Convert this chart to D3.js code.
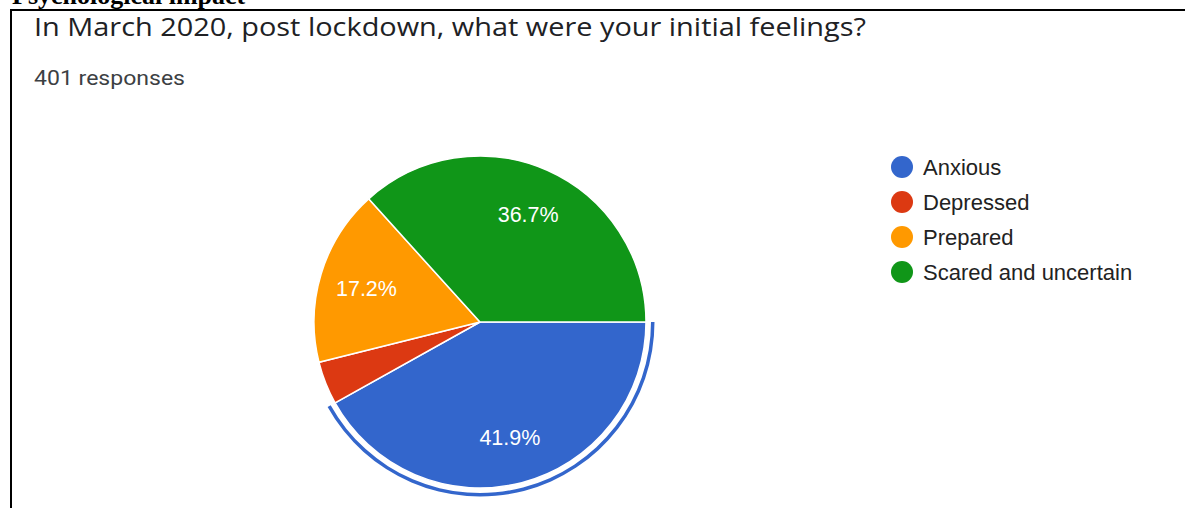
<!DOCTYPE html>
<html>
<head>
<meta charset="utf-8">
<script src="https://cdn.jsdelivr.net/npm/d3@7"></script>
<style>
  html, body { margin: 0; padding: 0; background: #ffffff; }
  svg { display: block; }
</style>
</head>
<body>
<svg id="chart" width="1185" height="508"></svg>
<script>
// Survey answers: share of respondents per feeling (percent)
const categories = ["Anxious", "Depressed", "Prepared", "Scared and uncertain"];
const shares = [41.9, 4.2, 17.2, 36.7];
const sliceColors = ["#3366cc", "#dc3912", "#ff9900", "#109618"];
const responseCount = 401;
const highlighted = "Anxious";

const svg = d3.select("#chart");
const W = 1185, H = 508;

// Section heading of the document, partly cut off above the frame
svg.append("text")
  .attr("x", 12).attr("y", 4)
  .attr("font-family", "'Liberation Serif', 'Times New Roman', serif")
  .attr("font-weight", "bold")
  .attr("font-size", 26)
  .attr("fill", "#000")
  .text("Psychological impact");

// Frame around the form card
svg.append("path")
  .attr("d", `M11,${H} L11,10 L${W},10`)
  .attr("fill", "none")
  .attr("stroke", "#000")
  .attr("stroke-width", 2);

// Question and response count
svg.append("text")
  .attr("x", 34).attr("y", 36)
  .attr("font-family", "'Open Sans', Roboto, sans-serif")
  .attr("font-size", 26)
  .attr("textLength", 832)
  .attr("lengthAdjust", "spacingAndGlyphs")
  .attr("fill", "#202124")
  .text("In March 2020, post lockdown, what were your initial feelings?");

svg.append("text")
  .attr("x", 34).attr("y", 85)
  .attr("font-family", "Roboto, 'Open Sans', sans-serif")
  .attr("font-size", 21)
  .attr("textLength", 151)
  .attr("lengthAdjust", "spacingAndGlyphs")
  .attr("fill", "#3c4043")
  .text(`${responseCount} responses`);

// Pie
const cx = 480, cy = 322, radius = 166;
const color = d3.scaleOrdinal().domain(categories).range(sliceColors);

const pie = d3.pie()
  .sort(null)
  .value(d => d.value)
  .startAngle(Math.PI / 2)
  .endAngle(Math.PI / 2 + 2 * Math.PI);

const data = categories.map((c, i) => ({ name: c, value: shares[i] }));
const arcs = pie(data);

const arc = d3.arc().innerRadius(0).outerRadius(radius);
const labelArc = d3.arc().innerRadius(radius * 0.715).outerRadius(radius * 0.715);
const ringArc = d3.arc().innerRadius(radius + 5).outerRadius(radius + 8.5);

const g = svg.append("g").attr("transform", `translate(${cx},${cy})`);

g.selectAll("path.slice")
  .data(arcs)
  .join("path")
  .attr("class", "slice")
  .attr("d", arc)
  .attr("fill", d => color(d.data.name))
  .attr("stroke", "#ffffff")
  .attr("stroke-width", 1.5);

// Hover ring around the selected slice
g.selectAll("path.ring")
  .data(arcs.filter(d => d.data.name === highlighted))
  .join("path")
  .attr("class", "ring")
  .attr("d", ringArc)
  .attr("fill", d => color(d.data.name));

// Percentage labels on the larger slices
g.selectAll("text.pct")
  .data(arcs.filter(d => d.data.value >= 10))
  .join("text")
  .attr("class", "pct")
  .attr("transform", d => `translate(${labelArc.centroid(d)})`)
  .attr("text-anchor", "middle")
  .attr("dy", "0.38em")
  .attr("font-family", "'Liberation Sans', Arial, sans-serif")
  .attr("font-size", 21.5)
  .attr("fill", "#ffffff")
  .text(d => `${d.data.value.toFixed(1)}%`);

// Legend
const legendY = d3.scalePoint().domain(categories).range([167, 272]);
const legend = svg.append("g");
const items = legend.selectAll("g")
  .data(categories)
  .join("g")
  .attr("transform", d => `translate(902,${legendY(d)})`);

items.append("circle")
  .attr("r", 11)
  .attr("fill", d => color(d));

items.append("text")
  .attr("x", 21)
  .attr("dy", "0.36em")
  .attr("font-family", "'Liberation Sans', Arial, sans-serif")
  .attr("font-size", 22)
  .attr("fill", "#222222")
  .text(d => d);
</script>
</body>
</html>
